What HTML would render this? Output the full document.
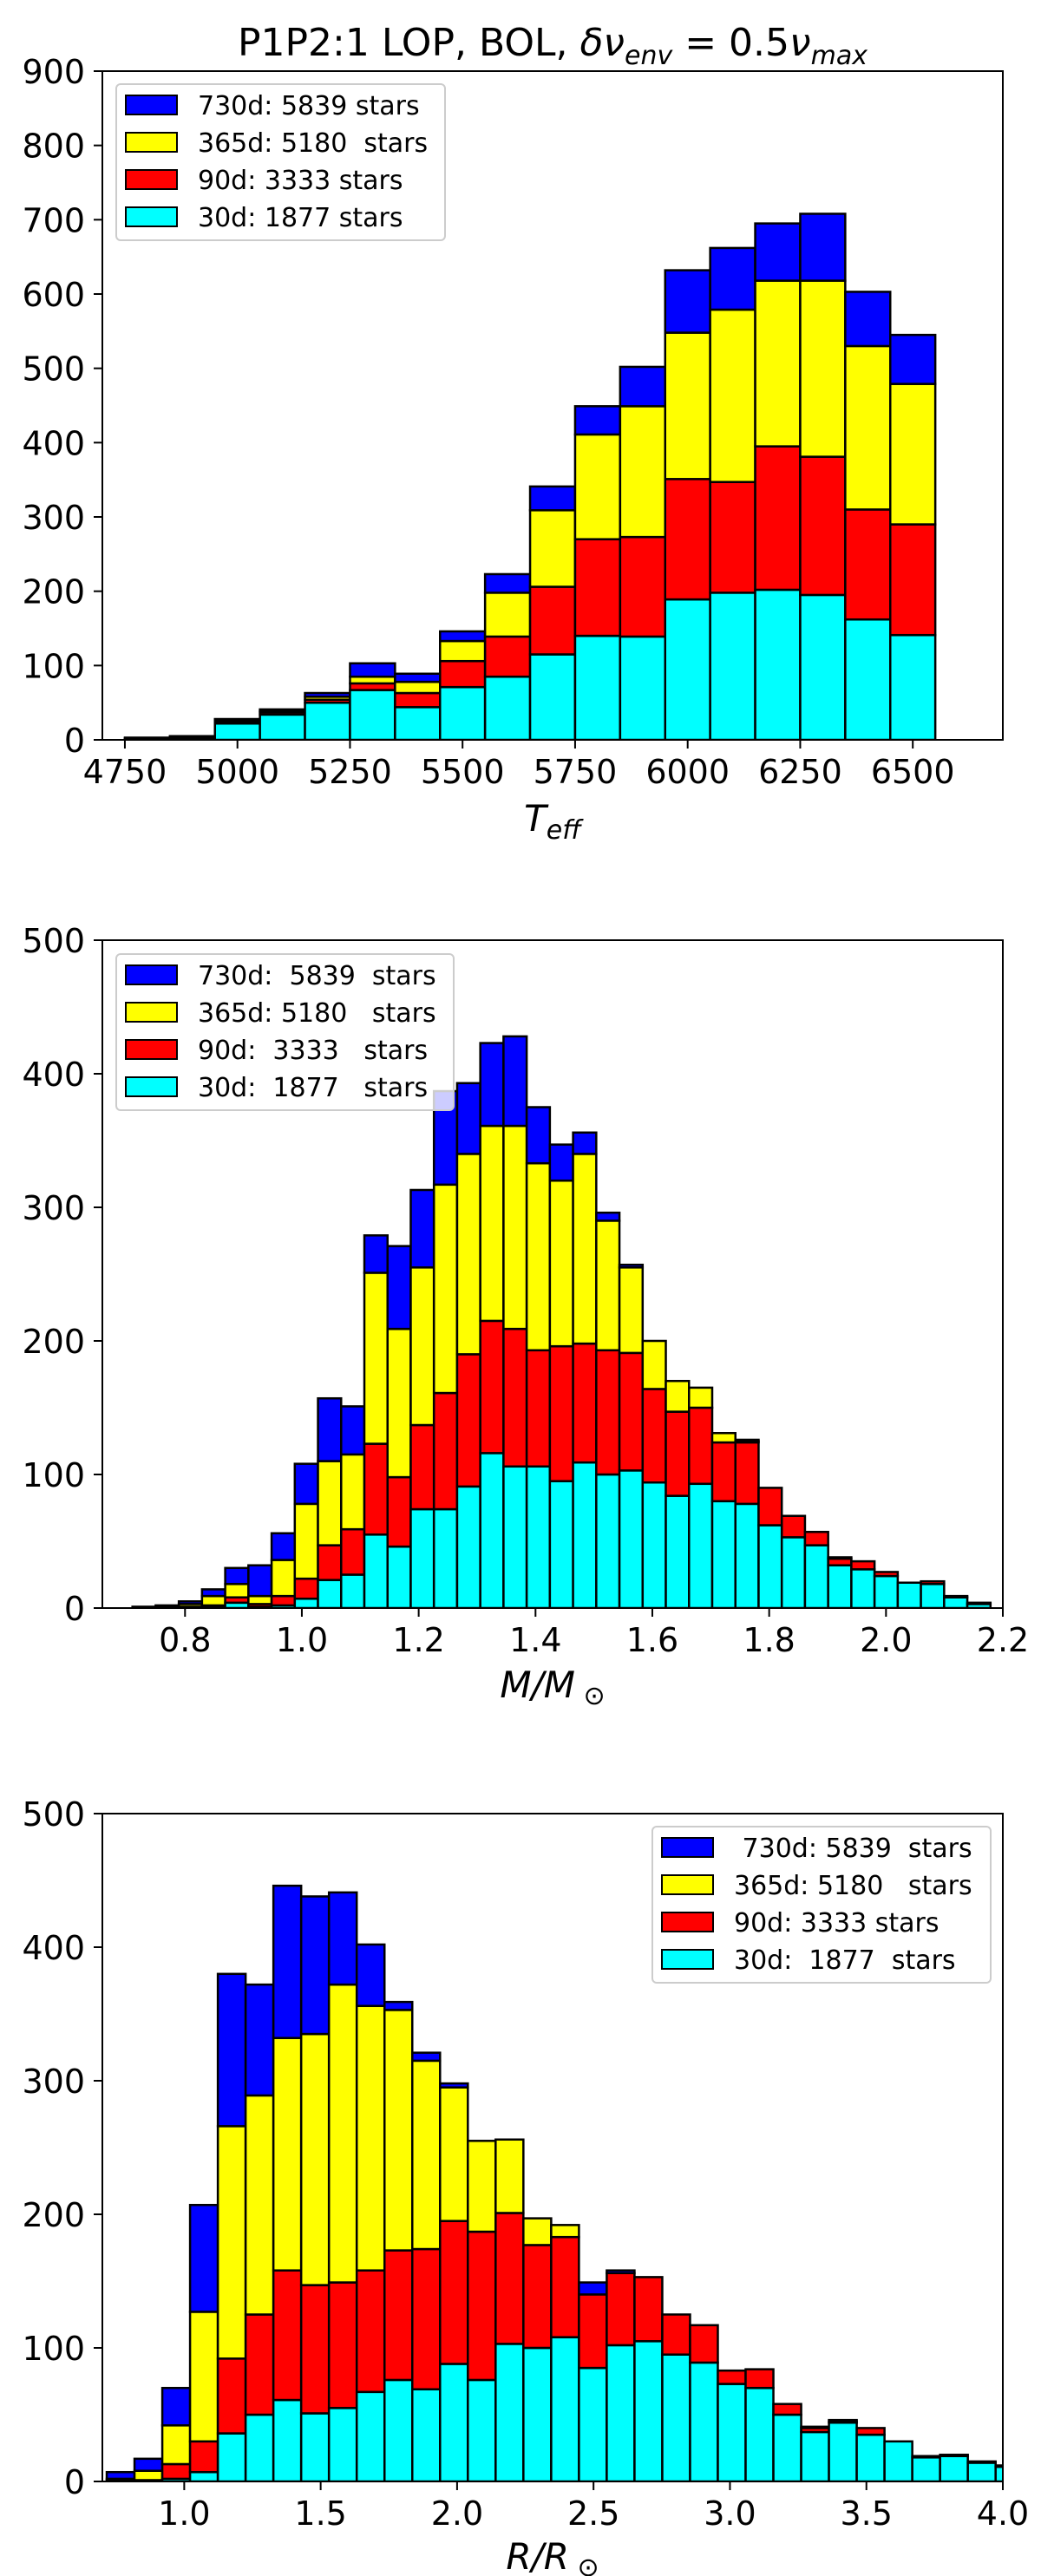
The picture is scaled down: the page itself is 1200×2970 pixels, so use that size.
<!DOCTYPE html>
<html><head><meta charset="utf-8"><style>
html,body{margin:0;padding:0;background:#fff;}
svg{display:block;}
text{font-family:"DejaVu Sans","Liberation Sans",sans-serif;fill:#000;}
.tick{font-size:38px;}
.leg{font-size:30px;white-space:pre;}
</style></head><body>
<svg id="fig" xmlns="http://www.w3.org/2000/svg" width="1200" height="2970" viewBox="0 0 1200 2970">
<rect width="1200" height="2970" fill="#fff"/>
<text x="637" y="64" text-anchor="middle" font-size="44">P1P2:1 LOP, BOL, <tspan font-style="italic">δν</tspan><tspan font-size="30" dy="10" font-style="italic">env</tspan><tspan dy="-10"> = 0.5</tspan><tspan font-style="italic">ν</tspan><tspan font-size="30" dy="10" font-style="italic">max</tspan></text>
</svg>
<script>
// Panel 1: Teff
const teffStart = 4750;
const teffWidth = 100;
const teffTop30 = [1,2,22,34,50,67,44,71,85,115,140,139,189,198,202,195,162,141];
const teffTop90 = [1,3,24,37,54,76,63,106,139,206,270,273,351,347,395,381,310,290];
const teffTop365 = [2,4,26,39,58,85,78,133,198,309,411,449,548,579,618,618,530,479];
const teffTop730 = [3,5,28,41,63,103,89,146,223,341,449,502,632,662,695,708,603,545];
const teffXTicks = [4750,5000,5250,5500,5750,6000,6250,6500];
const teffYTicks = [0,100,200,300,400,500,600,700,800,900];
// Panel 2: Mass
const massStart = 0.71;
const massWidth = 0.0397;
const massTop30 = [0,0,0,1,4,1,2,7,21,25,55,46,74,74,91,116,106,106,95,109,100,103,94,84,93,80,78,62,53,47,32,29,24,19,18,8,3];
const massTop90 = [0,0,1,2,8,3,9,22,47,59,123,98,137,161,190,215,209,193,196,198,193,191,164,147,150,124,124,90,69,57,37,35,27,19,20,9,4];
const massTop365 = [0,1,3,9,18,9,36,78,110,115,251,209,255,317,340,361,361,333,320,340,290,255,200,170,165,131,125,90,69,57,38,35,27,19,20,9,4];
const massTop730 = [1,2,5,14,30,32,56,108,157,151,279,271,313,387,393,423,428,375,347,356,296,257,200,170,165,131,126,90,69,57,38,35,27,19,20,9,4];
const massXTicks = ["0.8","1.0","1.2","1.4","1.6","1.8","2.0","2.2"];
const massYTicks = [0,100,200,300,400,500];
// Panel 3: Radius
const radStart = 0.716;
const radWidth = 0.1018;
const radTop30 = [1,1,2,7,36,50,61,51,55,67,76,69,88,76,103,100,108,85,102,105,95,89,73,70,50,37,44,35,30,18,19,14,11];
const radTop90 = [1,1,13,30,92,125,158,147,149,158,173,174,195,187,201,177,183,140,156,153,125,117,83,84,58,40,45,40,30,19,20,15,12];
const radTop365 = [2,8,42,127,266,289,332,335,372,356,353,315,295,255,256,197,192,140,156,153,125,117,83,84,58,41,46,40,30,19,20,15,12];
const radTop730 = [7,17,70,207,380,372,446,438,441,402,359,321,298,255,256,197,192,149,158,153,125,117,83,84,58,41,46,40,30,19,20,15,12];
const radXTicks = ["1.0","1.5","2.0","2.5","3.0","3.5","4.0"];
const radYTicks = [0,100,200,300,400,500];

const NS = "http://www.w3.org/2000/svg";
const svg = document.getElementById('fig');
function mk(tag, attrs, parent){
  const e = document.createElementNS(NS, tag);
  for (const k in attrs) e.setAttribute(k, attrs[k]);
  (parent||svg).appendChild(e);
  return e;
}
const colors = ['#00ffff','#ff0000','#ffff00','#0000ff'];
const layerNames = ['30d','90d','365d','730d'];
const L = 118, R = 1156;

function panel(p){
  const g = mk('g', {});
  
  
  const sx = v => L + (v - p.xmin) / (p.xmax - p.xmin) * (R - L);
  const sy = v => p.bottom - (v - p.ymin) / (p.ymax - p.ymin) * (p.bottom - p.top);
  const cid = 'clip-' + p.name;
  const cp = mk('clipPath', {id: cid}, g);
  mk('rect', {x: L, y: p.top, width: R - L, height: p.bottom - p.top}, cp);
  const bars = mk('g', {'clip-path': 'url(#' + cid + ')'}, g);
  
  
  const layers = [p.t30, p.t90, p.t365, p.t730];
  for (let i = 0; i < p.t30.length; i++){
    const x0 = sx(p.start + i * p.width), x1 = sx(p.start + (i + 1) * p.width);
    let prev = 0;
    for (let k = 0; k < 4; k++){
      const v = layers[k][i];
      const y0 = sy(prev), y1 = sy(v);
      const r = mk('rect', {x: x0, y: y1, width: x1 - x0, height: Math.max(0, y0 - y1), fill: colors[k], stroke: '#000', 'stroke-width': 2.5}, bars);
      
      
      prev = v;
    }
  }
  // axes frame
  const fr = mk('rect', {x: L, y: p.top, width: R - L, height: p.bottom - p.top, fill: 'none', stroke: '#000', 'stroke-width': 2}, g);
  
  
  // x ticks
  p.xticks.forEach(t => {
    const x = sx(parseFloat(t));
    mk('line', {x1: x, x2: x, y1: p.bottom, y2: p.bottom + 10, stroke: '#000', 'stroke-width': 2}, g);
    const tx = mk('text', {x: x, y: p.bottom + 50, 'text-anchor': 'middle', class: 'tick'}, g);
    tx.textContent = t;
    
    
  });
  p.yticks.forEach(t => {
    const y = sy(t);
    mk('line', {x1: L - 10, x2: L, y1: y, y2: y, stroke: '#000', 'stroke-width': 2}, g);
    const ty = mk('text', {x: 98, y: y + 14, 'text-anchor': 'end', class: 'tick'}, g);
    ty.textContent = t;
    
    
  });
  // legend
  const lg = mk('g', {}, g);
  
  
  mk('rect', {x: p.lx, y: p.ly, width: p.lw, height: 180, rx: 5, fill: '#fff', 'fill-opacity': 0.8, stroke: '#cccccc', 'stroke-width': 2}, lg);
  for (let k = 0; k < 4; k++){
    const yy = p.ly + 24 + k * 43;
    const ci = 3 - k;
    mk('rect', {x: p.lx + 11, y: yy - 11, width: 59, height: 22, fill: colors[ci], stroke: '#000', 'stroke-width': 2}, lg);
    const lt = mk('text', {x: p.lx + 94, y: yy + 11, class: 'leg'}, lg);
    lt.textContent = p.labels[k];
    
    
  }
}

panel({name: 'teff', xmin: 4700, xmax: 6700, ymin: 0, ymax: 900, top: 82, bottom: 853,
  start: teffStart, width: teffWidth, t30: teffTop30, t90: teffTop90, t365: teffTop365, t730: teffTop730,
  xticks: teffXTicks.map(String), yticks: teffYTicks, lx: 134, ly: 97, lw: 379,
  labels: ['730d: 5839 stars','365d: 5180  stars','90d: 3333 stars','30d: 1877 stars']});
panel({name: 'mass', xmin: 0.6585, xmax: 2.2, ymin: 0, ymax: 500, top: 1084, bottom: 1854,
  start: massStart, width: massWidth, t30: massTop30, t90: massTop90, t365: massTop365, t730: massTop730,
  xticks: massXTicks, yticks: massYTicks, lx: 134, ly: 1100, lw: 389,
  labels: ['730d:  5839  stars','365d: 5180   stars','90d:  3333   stars','30d:  1877   stars']});
panel({name: 'radius', xmin: 0.7, xmax: 4.0, ymin: 0, ymax: 500, top: 2091, bottom: 2861,
  start: radStart, width: radWidth, t30: radTop30, t90: radTop90, t365: radTop365, t730: radTop730,
  xticks: radXTicks, yticks: radYTicks, lx: 752, ly: 2106, lw: 390,
  labels: [' 730d: 5839  stars','365d: 5180   stars','90d: 3333 stars','30d:  1877  stars']});

// axis labels
function xl(y, html, name){
  const t = mk('text', {x: 637, y: y, 'text-anchor': 'middle', 'font-size': 42, 'font-style': 'italic'});
  t.innerHTML = html;
  
  
}
xl(958, 'T<tspan font-size="30" dy="9">eff</tspan>', 'x-axis-title-teff');
xl(1957, 'M/M<tspan font-size="30" dy="8" font-style="normal"> ⊙</tspan>', 'x-axis-title-mass');
xl(2962, 'R/R<tspan font-size="30" dy="8" font-style="normal"> ⊙</tspan>', 'x-axis-title-radius');
</script>
</body></html>
